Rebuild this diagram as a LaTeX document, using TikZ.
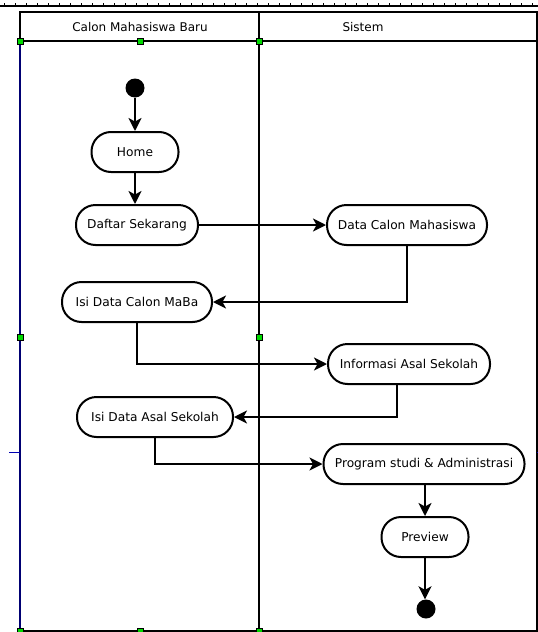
\documentclass[tikz,border=0pt]{standalone}
\usepackage{fontspec}
\setmainfont{DejaVu Sans}
\usetikzlibrary{arrows.meta}
\begin{document}
\begin{tikzpicture}[x=1pt,y=-1pt,
  act/.style={draw, line width=2pt, rounded corners=19.5pt, minimum height=40pt, inner sep=2pt, font=\fontsize{12.2}{14}\selectfont},
  flow/.style={line width=2pt, -{Stealth[length=13pt,width=13pt,inset=3.5pt]}},
  lane/.style={line width=2pt},
  handle/.style={draw=black, fill=green!85!black, line width=0.6pt, minimum size=6pt, inner sep=0pt},
  dot/.style={circle, fill=black, minimum size=19pt, inner sep=0pt}]
\useasboundingbox (0,0) rectangle (538,632);
% ruler
\draw[line width=1.5pt] (0,6) -- (538,6);
\foreach \i in {0,...,48} {\draw[line width=1pt] (4+11*\i,3) -- (4+11*\i,6);}
% swimlanes
\draw[lane] (20,12) rectangle (537,631);
\draw[lane] (20,41) -- (537,41);
\draw[lane] (259,12) -- (259,631);
\draw[line width=2.8pt, draw=black!55!blue] (20,41) -- (20,631);
\draw[draw=blue!70!black, line width=1pt] (9,452) -- (20,452);
\draw[draw=blue!70!black, line width=1pt] (537,452) -- (538,452);
\node[font=\fontsize{12}{14}\selectfont] (lane1) at (140,27) {Calon Mahasiswa Baru};
\node[font=\fontsize{12}{14}\selectfont] (lane2) at (363,27) {Sistem};
% handles
\foreach \x/\y [count=\k] in {20/41,140/41,259/41,20/337,259/337,20/631,140/631,259/631}
  {\node[handle] (h\k) at (\x,\y) {};}
% activity nodes
\node[dot] (start) at (135,88) {};
\node[act, minimum width=87pt] (home) at (135,152) {Home};
\node[act, minimum width=122pt] (daftar) at (137,225) {Daftar Sekarang};
\node[act, minimum width=160pt] (datacalon) at (407,225) {Data Calon Mahasiswa};
\node[act, minimum width=150pt] (isimaba) at (137,302) {Isi Data Calon MaBa};
\node[act, minimum width=162pt] (info) at (409,364) {Informasi Asal Sekolah};
\node[act, minimum width=156pt] (isiasal) at (155,417) {Isi Data Asal Sekolah};
\node[act, minimum width=201pt] (prog) at (424,464) {Program studi \& Administrasi};
\node[act, minimum width=87pt] (preview) at (425,537) {Preview};
\node[dot] (end) at (426,609) {};
% flows
\draw[flow] (start) -- (home);
\draw[flow] (home.south) -- (home.south |- daftar.north);
\draw[flow] (daftar) -- (datacalon);
\draw[flow] (datacalon.south) |- (isimaba.east);
\draw[flow] (isimaba.south) |- (info.west);
\draw[flow] ([xshift=-12pt]info.south) |- (isiasal.east);
\draw[flow] (isiasal.south) |- (prog.west);
\draw[flow] (preview.north |- prog.south) -- (preview.north);
\draw[flow] (preview.south) -- (preview.south |- end.north);
\end{tikzpicture}
\end{document}
